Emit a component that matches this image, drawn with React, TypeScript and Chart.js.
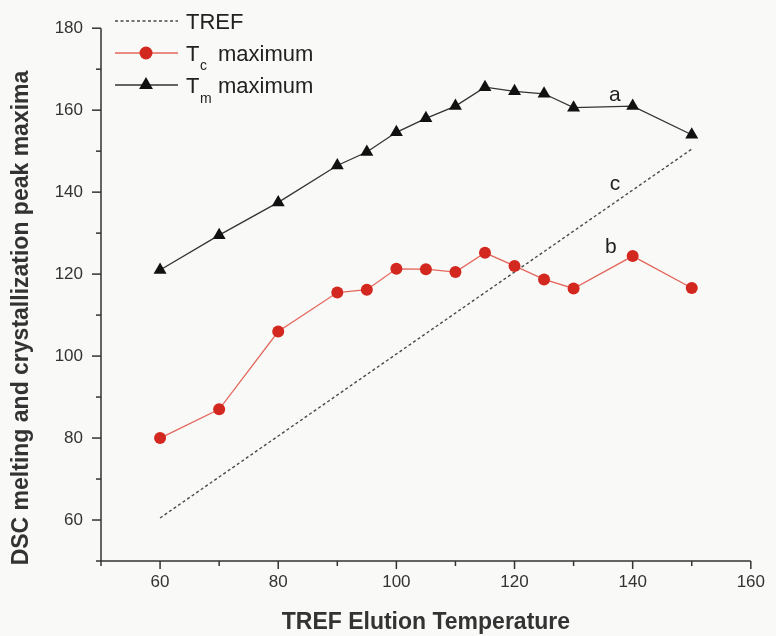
import React, { useEffect, useRef } from 'react';
import { Chart, registerables } from 'chart.js';

Chart.register(...registerables);

// ---- data ----
const elutionTemps = [60, 70, 80, 90, 95, 100, 105, 110, 115, 120, 125, 130, 140, 150];
const tmMaximum = [121, 129.5, 137.5, 146.5, 149.8, 154.6, 158, 161, 165.6, 164.6, 164, 160.6, 161, 154];
const tcMaximum = [80, 87, 106, 115.5, 116.2, 121.3, 121.2, 120.5, 125.2, 122, 118.7, 116.5, 124.4, 116.6];
const trefTemps = [60, 150];
const trefValues = [60.5, 150.5];

const xTickLabels = [60, 80, 100, 120, 140, 160];
const yTickLabels = [60, 80, 100, 120, 140, 160, 180];

const curveLetters = ['a', 'b', 'c'];
const curveLetterX = [137, 136.3, 137];
const curveLetterY = [163.6, 126.5, 141.9];

const FONT = '"Liberation Sans", Arial, Helvetica, sans-serif';
const AXIS = '#333333';
const RED = '#d3281f';
const RED_LINE = '#e4675d';
const DARK = '#222222';
const DASH = '#4a4a4a';

const decorPlugin = {
  id: 'decor',
  beforeDraw(chart: any) {
    const { ctx, width, height } = chart;
    ctx.save();
    ctx.fillStyle = '#f9f9f7';
    ctx.fillRect(0, 0, width, height);
    ctx.restore();
  },
  afterDraw(chart: any) {
    const { ctx, chartArea } = chart;
    const xs = chart.scales.x;
    const ys = chart.scales.y;
    const L = chartArea.left;
    const B = chartArea.bottom;
    ctx.save();
    // axes
    ctx.strokeStyle = AXIS;
    ctx.lineWidth = 1.5;
    ctx.beginPath();
    ctx.moveTo(L, chartArea.top);
    ctx.lineTo(L, B);
    ctx.lineTo(xs.getPixelForValue(160), B);
    ctx.stroke();
    // ticks (major labelled, minor unlabelled)
    for (let v = 50; v <= 160; v += 10) {
      const px = xs.getPixelForValue(v);
      const len = xTickLabels.includes(v) ? 8 : 5;
      ctx.beginPath();
      ctx.moveTo(px, B);
      ctx.lineTo(px, B + len);
      ctx.stroke();
    }
    for (let v = 50; v <= 180; v += 10) {
      const py = ys.getPixelForValue(v);
      const len = yTickLabels.includes(v) ? 9 : 5;
      ctx.beginPath();
      ctx.moveTo(L - len, py);
      ctx.lineTo(L, py);
      ctx.stroke();
    }

    // y-axis title
    ctx.save();
    ctx.translate(22, 318);
    ctx.rotate(-Math.PI / 2);
    ctx.font = `bold 23px ${FONT}`;
    ctx.fillStyle = AXIS;
    ctx.textAlign = 'center';
    ctx.textBaseline = 'middle';
    ctx.fillText('DSC melting and crystallization peak maxima', 0, 0);
    ctx.restore();

    // curve letters
    ctx.font = `21px ${FONT}`;
    ctx.fillStyle = DARK;
    ctx.textAlign = 'center';
    ctx.textBaseline = 'middle';
    curveLetters.forEach((t, i) => {
      ctx.fillText(t, xs.getPixelForValue(curveLetterX[i]), ys.getPixelForValue(curveLetterY[i]));
    });

    // legend
    const lx0 = 115;
    const lx1 = 178;
    const mx = 146;
    const tx = 186;
    const rows = [21, 53, 85];
    ctx.textAlign = 'left';
    ctx.textBaseline = 'alphabetic';
    // row 1: TREF
    ctx.strokeStyle = DASH;
    ctx.lineWidth = 1.4;
    ctx.setLineDash([3, 2.5]);
    ctx.beginPath();
    ctx.moveTo(lx0, rows[0]);
    ctx.lineTo(lx1, rows[0]);
    ctx.stroke();
    ctx.setLineDash([]);
    ctx.fillStyle = DARK;
    ctx.font = `22px ${FONT}`;
    ctx.fillText('TREF', tx, rows[0] + 8);
    // row 2: Tc
    ctx.strokeStyle = RED_LINE;
    ctx.lineWidth = 1.3;
    ctx.beginPath();
    ctx.moveTo(lx0, rows[1]);
    ctx.lineTo(lx1, rows[1]);
    ctx.stroke();
    ctx.fillStyle = RED;
    ctx.beginPath();
    ctx.arc(mx, rows[1], 6.5, 0, Math.PI * 2);
    ctx.fill();
    ctx.fillStyle = DARK;
    ctx.font = `22px ${FONT}`;
    ctx.fillText('T', tx, rows[1] + 8);
    ctx.fillText('maximum', 218, rows[1] + 8);
    ctx.font = `14px ${FONT}`;
    ctx.fillText('c', 200, rows[1] + 17);
    // row 3: Tm
    ctx.strokeStyle = AXIS;
    ctx.lineWidth = 1.3;
    ctx.beginPath();
    ctx.moveTo(lx0, rows[2]);
    ctx.lineTo(lx1, rows[2]);
    ctx.stroke();
    ctx.fillStyle = '#111111';
    const r = 8;
    ctx.beginPath();
    ctx.moveTo(mx, rows[2] - r);
    ctx.lineTo(mx + r * 0.866, rows[2] + r / 2);
    ctx.lineTo(mx - r * 0.866, rows[2] + r / 2);
    ctx.closePath();
    ctx.fill();
    ctx.fillStyle = DARK;
    ctx.font = `22px ${FONT}`;
    ctx.fillText('T', tx, rows[2] + 8);
    ctx.fillText('maximum', 218, rows[2] + 8);
    ctx.font = `14px ${FONT}`;
    ctx.fillText('m', 200, rows[2] + 18);

    ctx.restore();
  },
};

export default function App() {
  const canvasRef = useRef<HTMLCanvasElement | null>(null);

  useEffect(() => {
    document.body.style.margin = '0';
    const canvas = canvasRef.current;
    if (!canvas) return;
    const chart = new Chart(canvas, {
      type: 'line',
      data: {
        datasets: [
          {
            label: 'Tm maximum',
            data: elutionTemps.map((t, i) => ({ x: t, y: tmMaximum[i] })),
            borderColor: AXIS,
            borderWidth: 1.3,
            pointStyle: 'triangle',
            pointRadius: 7.5,
            pointBackgroundColor: '#111111',
            pointBorderColor: '#111111',
            pointBorderWidth: 0,
            tension: 0,
            fill: false,
            clip: false as any,
          },
          {
            label: 'Tc maximum',
            data: elutionTemps.map((t, i) => ({ x: t, y: tcMaximum[i] })),
            borderColor: RED_LINE,
            borderWidth: 1.3,
            pointStyle: 'circle',
            pointRadius: 6,
            pointBackgroundColor: RED,
            pointBorderColor: RED,
            pointBorderWidth: 0,
            tension: 0,
            fill: false,
            clip: false as any,
          },
          {
            label: 'TREF',
            data: trefTemps.map((t, i) => ({ x: t, y: trefValues[i] })),
            borderColor: DASH,
            borderWidth: 1.4,
            borderDash: [3, 2.5],
            pointRadius: 0,
            tension: 0,
            fill: false,
          },
        ],
      },
      options: {
        responsive: false,
        maintainAspectRatio: false,
        animation: false,
        layout: { padding: { left: 0, top: 24, right: 20, bottom: 0 } },
        plugins: {
          legend: { display: false },
          tooltip: { enabled: false },
        },
        scales: {
          x: {
            type: 'linear',
            min: 50,
            max: 160,
            afterFit: (s: any) => {
              s.height = 75;
            },
            grid: { display: false, drawTicks: false },
            border: { display: false },
            ticks: {
              stepSize: 10,
              autoSkip: false,
              maxRotation: 0,
              padding: 11,
              color: AXIS,
              font: { family: FONT, size: 17 },
              callback: (v: any) => (xTickLabels.includes(Number(v)) ? String(v) : ''),
            },
            title: {
              display: true,
              text: 'TREF Elution Temperature',
              color: AXIS,
              font: { family: FONT, size: 23, weight: 'bold' },
              padding: { top: 0, bottom: 0 },
            },
          },
          y: {
            type: 'linear',
            min: 50,
            max: 180,
            afterFit: (s: any) => {
              s.width = 101;
            },
            grid: { display: false, drawTicks: false },
            border: { display: false },
            ticks: {
              stepSize: 10,
              autoSkip: false,
              padding: 18,
              color: AXIS,
              font: { family: FONT, size: 17 },
              callback: (v: any) => (yTickLabels.includes(Number(v)) ? String(v) : ''),
            },
          },
        },
      },
      plugins: [decorPlugin],
    });
    return () => chart.destroy();
  }, []);

  return <canvas ref={canvasRef} width={776} height={636} style={{ display: 'block' }} />;
}
